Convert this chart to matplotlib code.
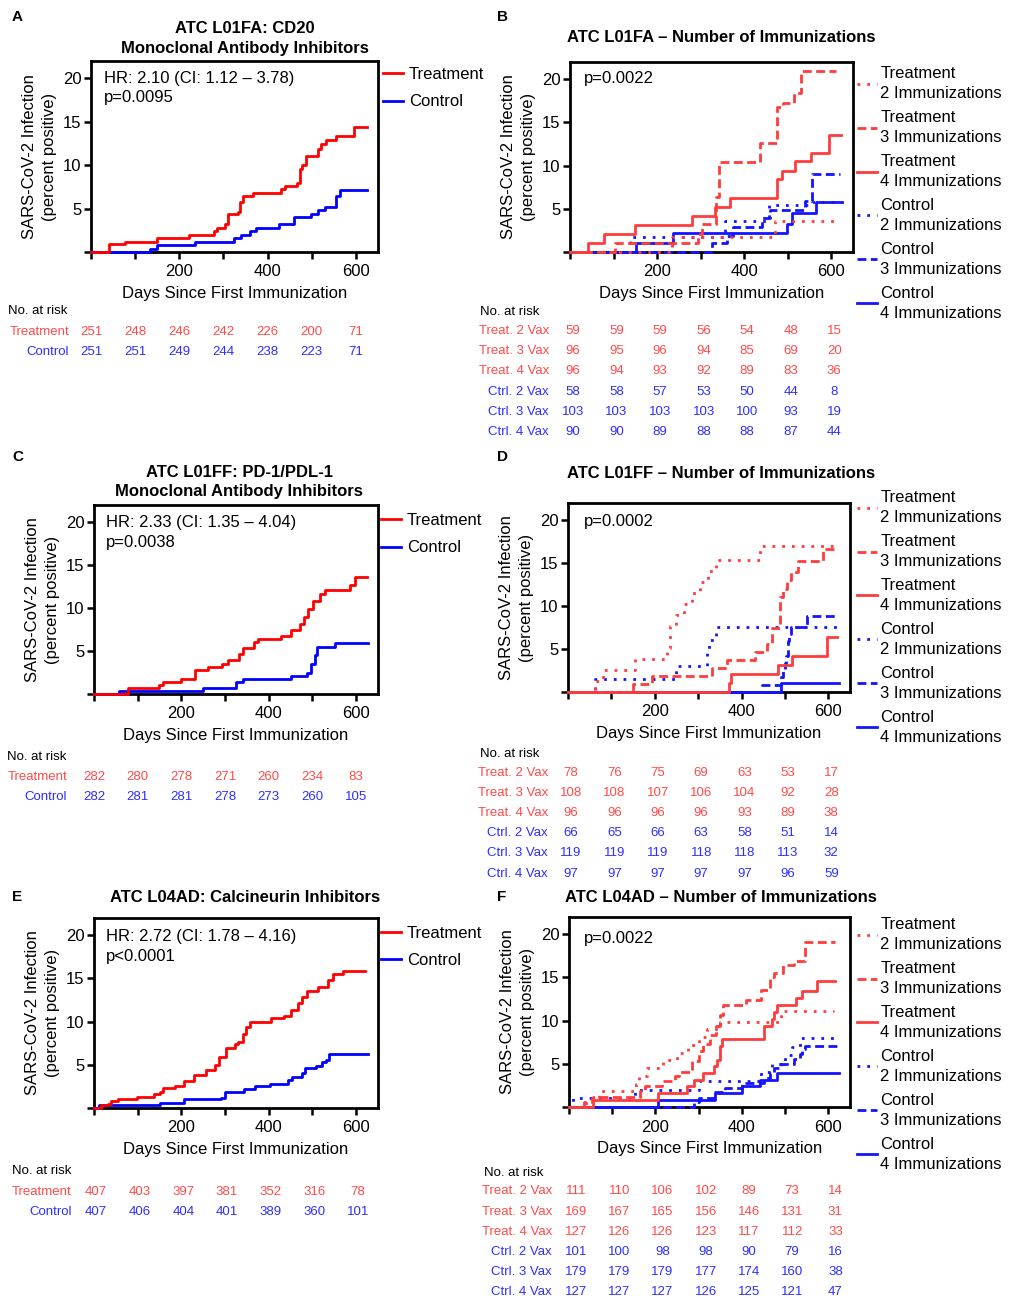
import matplotlib.pyplot as plt
from matplotlib import transforms

plt.rcParams['font.family'] = ['Liberation Sans', 'DejaVu Sans']
plt.rcParams['font.size'] = 12

W, H = 1010, 1298

RED, BLUE = '#ff0000', '#0000ff'          # single comparison panels
RED2, BLUE2 = '#ff3c3c', '#1414ff'        # immunization panels
TRED, TBLUE = '#ff4a4a', '#2e2eff'        # risk tables

risk_days = [0, 100, 200, 300, 400, 500, 600]

# ---------------- A: L01FA CD20 ----------------
a_trt_days = [0, 40, 78, 150, 221, 279, 285, 303, 310, 333, 338, 344, 368, 431, 440, 467, 473, 478, 488, 514, 521, 533, 556, 595]
a_trt_pct = [0, 0.9, 1.2, 1.6, 2.0, 2.4, 2.8, 3.2, 4.4, 4.6, 5.8, 6.4, 6.8, 7.2, 7.6, 8.0, 9.6, 10.0, 11.1, 11.9, 12.4, 12.9, 13.4, 14.4]
a_ctl_days = [0, 134, 150, 236, 323, 339, 361, 374, 425, 459, 498, 514, 531, 556, 565]
a_ctl_pct = [0, 0.4, 0.8, 1.2, 1.6, 2.0, 2.4, 2.8, 3.2, 4.0, 4.4, 4.8, 5.2, 6.4, 7.1]
a_risk_trt = [251, 248, 246, 242, 226, 200, 71]
a_risk_ctl = [251, 251, 249, 244, 238, 223, 71]

# ---------------- B: L01FA by immunizations ----------------
b_t2_days, b_t2_pct = [0, 235, 470], [0, 1.7, 3.6]
b_t3_days = [0, 103, 295, 304, 335, 342, 437, 475, 490, 515, 531]
b_t3_pct = [0, 1.0, 2.1, 3.3, 6.4, 10.4, 12.6, 16.8, 17.2, 18.4, 21.0]
b_t4_days = [0, 41, 79, 150, 281, 334, 367, 475, 488, 516, 554, 594]
b_t4_pct = [0, 1.0, 2.1, 3.1, 4.2, 5.2, 6.3, 8.4, 9.4, 10.5, 11.5, 13.5]
b_c2_days, b_c2_pct = [0, 137, 355, 458, 555], [0, 1.7, 3.6, 5.5, 5.8]
b_c3_days = [0, 325, 360, 375, 440, 460, 540, 555]
b_c3_pct = [0, 1.0, 1.9, 2.9, 3.9, 4.9, 5.9, 9.0]
b_c4_days, b_c4_pct = [0, 152, 236, 499, 511, 565], [0, 1.1, 2.2, 3.3, 4.5, 5.8]
b_risk = [
    [59, 59, 59, 56, 54, 48, 15],
    [96, 95, 96, 94, 85, 69, 20],
    [96, 94, 93, 92, 89, 83, 36],
    [58, 58, 57, 53, 50, 44, 8],
    [103, 103, 103, 103, 100, 93, 19],
    [90, 90, 89, 88, 88, 87, 44],
]

# ---------------- C: L01FF PD-1/PDL-1 ----------------
c_trt_days = [0, 77, 148, 157, 198, 232, 261, 293, 307, 333, 342, 367, 375, 429, 452, 472, 481, 490, 502, 517, 528, 585, 597]
c_trt_pct = [0, 0.7, 1.0, 1.4, 1.8, 2.8, 3.2, 3.5, 3.9, 4.6, 5.3, 6.0, 6.4, 6.7, 7.4, 8.2, 9.0, 9.9, 10.8, 11.6, 12.1, 12.7, 13.6]
c_ctl_days = [0, 58, 249, 326, 342, 450, 488, 497, 505, 511, 551]
c_ctl_pct = [0, 0.35, 0.7, 1.4, 1.8, 2.1, 2.5, 3.5, 4.5, 5.5, 5.9]
c_risk_trt = [282, 280, 278, 271, 260, 234, 83]
c_risk_ctl = [282, 281, 281, 278, 273, 260, 105]

# ---------------- D: L01FF by immunizations ----------------
d_t2_days = [0, 62, 80, 155, 228, 235, 250, 268, 285, 305, 322, 340, 443]
d_t2_pct = [0, 1.3, 2.6, 3.8, 5.1, 7.7, 9.0, 10.3, 11.5, 12.8, 14.1, 15.4, 17.0]
d_t3_days = [0, 150, 193, 331, 366, 432, 458, 470, 488, 496, 505, 515, 530, 588]
d_t3_pct = [0, 0.9, 1.9, 2.8, 3.7, 4.6, 5.6, 7.4, 11.1, 12.0, 13.0, 14.0, 15.2, 16.7]
d_t4_days, d_t4_pct = [0, 370, 376, 485, 517, 596], [0, 1.1, 2.1, 3.2, 4.2, 6.4]
d_c2_days, d_c2_pct = [0, 62, 250, 320, 325, 340], [0, 1.5, 3.0, 4.5, 6.1, 7.6]
d_c3_days = [0, 447, 492, 496, 500, 503, 506, 508, 510, 513, 550]
d_c3_pct = [0, 0.84, 1.7, 2.5, 3.4, 4.2, 5.0, 5.9, 6.7, 7.6, 8.8]
d_c4_days, d_c4_pct = [0, 492], [0, 1.1]
d_risk = [
    [78, 76, 75, 69, 63, 53, 17],
    [108, 108, 107, 106, 104, 92, 28],
    [96, 96, 96, 96, 93, 89, 38],
    [66, 65, 66, 63, 58, 51, 14],
    [119, 119, 119, 118, 118, 113, 32],
    [97, 97, 97, 97, 97, 96, 59],
]

# ---------------- E: L04AD calcineurin ----------------
e_trt_days = [0, 16, 31, 39, 54, 99, 138, 150, 157, 186, 207, 229, 257, 277, 287, 303, 322, 329, 341, 349, 356, 404, 436, 452, 466, 475, 488, 513, 536, 547, 570]
e_trt_pct = [0, 0.3, 0.5, 0.8, 1.1, 1.3, 1.6, 1.9, 2.3, 2.6, 3.1, 3.8, 4.4, 5.0, 5.9, 6.9, 7.4, 7.6, 8.6, 9.4, 10.0, 10.4, 10.7, 11.3, 12.2, 12.9, 13.5, 14.0, 14.8, 15.5, 15.9]
e_ctl_days = [0, 12, 150, 207, 291, 299, 343, 368, 402, 444, 453, 475, 482, 509, 521, 530, 537]
e_ctl_pct = [0, 0.3, 0.6, 1.0, 1.2, 1.8, 2.2, 2.5, 2.8, 3.2, 3.6, 4.1, 4.6, 4.9, 5.3, 5.6, 6.3]
e_risk_trt = [407, 403, 397, 381, 352, 316, 78]
e_risk_ctl = [407, 406, 404, 401, 389, 360, 101]

# ---------------- F: L04AD by immunizations ----------------
f_t2_days = [0, 40, 70, 155, 162, 180, 218, 250, 275, 300, 320, 350, 490]
f_t2_pct = [0, 0.9, 1.8, 2.7, 3.6, 4.5, 5.4, 6.3, 7.2, 8.1, 9.0, 9.9, 11.1]
f_t3_days = [0, 35, 55, 165, 175, 215, 245, 255, 285, 300, 310, 325, 340, 350, 357, 410, 445, 465, 475, 495, 520, 545]
f_t3_pct = [0, 0.6, 1.2, 1.8, 2.4, 3.0, 3.6, 4.1, 5.3, 6.5, 7.3, 8.3, 9.4, 10.6, 11.8, 12.4, 13.5, 15.0, 15.5, 16.4, 16.9, 19.1]
f_t4_days = [0, 55, 205, 272, 290, 310, 335, 342, 350, 355, 450, 470, 475, 480, 525, 540, 573]
f_t4_pct = [0, 0.8, 1.6, 2.4, 3.1, 3.9, 4.7, 5.5, 7.1, 7.9, 9.4, 10.2, 11.0, 11.8, 12.6, 13.4, 14.6]
f_c2_days = [0, 10, 152, 300, 445, 470, 500, 515, 535]
f_c2_pct = [0, 1.0, 2.0, 3.0, 4.0, 5.0, 6.0, 7.0, 8.0]
f_c3_days = [0, 290, 300, 335, 360, 400, 452, 465, 475, 490, 520, 535, 540, 545]
f_c3_pct = [0, 0.6, 1.1, 1.7, 2.2, 2.8, 3.4, 3.9, 4.5, 5.0, 5.6, 6.1, 6.7, 7.1]
f_c4_days, f_c4_pct = [0, 205, 338, 400, 442, 481], [0, 0.8, 1.6, 2.4, 3.1, 3.9]
f_risk = [
    [111, 110, 106, 102, 89, 73, 14],
    [169, 167, 165, 156, 146, 131, 31],
    [127, 126, 126, 123, 117, 112, 33],
    [101, 100, 98, 98, 90, 79, 16],
    [179, 179, 179, 177, 174, 160, 38],
    [127, 127, 127, 126, 125, 121, 47],
]

two_labels = ['Treatment', 'Control']
vax_labels = ['Treat. 2 Vax', 'Treat. 3 Vax', 'Treat. 4 Vax', 'Ctrl. 2 Vax', 'Ctrl. 3 Vax', 'Ctrl. 4 Vax']
vax_legend = ['Treatment\n2 Immunizations', 'Treatment\n3 Immunizations', 'Treatment\n4 Immunizations',
              'Control\n2 Immunizations', 'Control\n3 Immunizations', 'Control\n4 Immunizations']

DOT = (0, (1, 2.5))
DASH = (0, (3.2, 1.6))
LS = 1.4  # line spacing for two-line texts

fig = plt.figure(figsize=(W / 100, H / 100), dpi=100)


def fy(y):
    return 1 - y / H


def make_ax(l, r, t, b):
    ax = fig.add_axes([l / W, 1 - b / H, (r - l) / W, (b - t) / H])
    ax.set_xlim(0, 650)
    ax.set_ylim(0, 22)
    ax.set_xticks(range(0, 700, 100))
    ax.set_xticklabels(['', '', '200', '', '400', '', '600'])
    ax.set_yticks([0, 5, 10, 15, 20])
    ax.set_yticklabels(['', '5', '10', '15', '20'])
    for s in ax.spines.values():
        s.set_linewidth(2)
    ax.tick_params(direction='out', length=5, width=1.8, labelsize=12, pad=2)
    ax.tick_params(axis='x', pad=4)
    ax.set_xlabel('Days Since First Immunization', fontsize=12, labelpad=5)
    ax.set_ylabel('SARS-CoV-2 Infection\n(percent positive)', fontsize=12, labelpad=4, linespacing=LS)
    return ax


def km(ax, days, pct, end, color, ls='-', lw=2):
    x = list(days) + [end]
    y = list(pct) + [pct[-1]]
    line, = ax.step(x, y, where='post', color=color, ls=ls, lw=lw, clip_on=False, zorder=3)
    return line


def risk_table(ax, x_nr, y_nr, x_lab, labels, counts, colors, ys, dx=0):
    fig.text(x_nr / W, fy(y_nr), 'No. at risk', fontsize=9.5, ha='left', va='center')
    tr = transforms.blended_transform_factory(ax.transData, fig.transFigure)
    tr = transforms.offset_copy(tr, fig=fig, x=dx, y=0, units='dots')
    for lab, row, col, y in zip(labels, counts, colors, ys):
        fig.text(x_lab / W, fy(y), lab, color=col, fontsize=9.5, ha='right', va='center')
        for d, n in zip(risk_days, row):
            fig.text(d, fy(y), str(n), transform=tr, color=col, fontsize=9.5, ha='center', va='center')


def legend(ax, handles, labels, x, ytop, spacing, textpad):
    leg = ax.legend(handles, labels, loc='upper left', bbox_to_anchor=(x / W, fy(ytop)),
                    bbox_transform=fig.transFigure, frameon=False, borderpad=0, borderaxespad=0,
                    handlelength=1.2, handletextpad=textpad, labelspacing=spacing, fontsize=12)
    for t in leg.get_texts():
        t.set_linespacing(LS)


def two_group(l, r, t, b, trt, ctl, end_t, end_c, hr_text, hr_xy, title, title_xy, letter_xy, letter,
              leg_x, leg_top, leg_sp, risk, table):
    ax = make_ax(l, r, t, b)
    hc = km(ax, ctl[0], ctl[1], end_c, BLUE)
    ht = km(ax, trt[0], trt[1], end_t, RED)
    fig.text(hr_xy[0] / W, fy(hr_xy[1]), hr_text, fontsize=12, ha='left', va='center', linespacing=LS)
    fig.text(title_xy[0] / W, fy(title_xy[1]), title, fontsize=12, fontweight='bold', ha='center', va='center',
             linespacing=LS)
    fig.text(letter_xy[0] / W, fy(letter_xy[1]), letter, fontsize=11, fontweight='bold', ha='left', va='center')
    legend(ax, [ht, hc], two_labels, leg_x, leg_top, leg_sp, 0.35)
    x_nr, y_nr, x_lab, ys, dx = table
    risk_table(ax, x_nr, y_nr, x_lab, two_labels, risk, [TRED, TBLUE], ys, dx)
    return ax


def vax_group(l, r, t, b, series, p_text, p_xy, title, title_xy, letter_xy, letter, leg_x, leg_top, risk, table):
    ax = make_ax(l, r, t, b)
    styles = [(RED2, DOT), (RED2, DASH), (RED2, '-'), (BLUE2, DOT), (BLUE2, DASH), (BLUE2, '-')]
    handles = [None] * 6
    for i in [3, 4, 5, 0, 1, 2]:
        days, pct, end = series[i]
        col, ls = styles[i]
        handles[i] = km(ax, days, pct, end, col, ls)
    fig.text(p_xy[0] / W, fy(p_xy[1]), p_text, fontsize=12, ha='left', va='center')
    fig.text(title_xy[0] / W, fy(title_xy[1]), title, fontsize=12, fontweight='bold', ha='center', va='center')
    fig.text(letter_xy[0] / W, fy(letter_xy[1]), letter, fontsize=11, fontweight='bold', ha='left', va='center')
    legend(ax, handles, vax_legend, leg_x, leg_top, 0.55, 0.2)
    x_nr, y_nr, x_lab, ys, dx = table
    risk_table(ax, x_nr, y_nr, x_lab, vax_labels, risk, [TRED] * 3 + [TBLUE] * 3, ys, dx)
    return ax


# A
two_group(91, 378, 61, 252, (a_trt_days, a_trt_pct), (a_ctl_days, a_ctl_pct), 624, 624,
          'HR: 2.10 (CI: 1.12 \u2013 3.78)\np=0.0095', (104, 88),
          'ATC L01FA: CD20\nMonoclonal Antibody Inhibitors', (245, 38.5), (12, 17), 'A',
          383, 67, 0.75, [a_risk_trt, a_risk_ctl], (8, 311, 69, [332, 352], 0))
# C
two_group(94, 378, 505, 694, (c_trt_days, c_trt_pct), (c_ctl_days, c_ctl_pct), 624, 628,
          'HR: 2.33 (CI: 1.35 \u2013 4.04)\np=0.0038', (106, 532.5),
          'ATC L01FF: PD-1/PDL-1\nMonoclonal Antibody Inhibitors', (239, 482), (12, 457), 'C',
          381, 513, 0.75, [c_risk_trt, c_risk_ctl], (7, 757, 67, [777, 797], 0))
# E
two_group(94, 378, 918, 1108, (e_trt_days, e_trt_pct), (e_ctl_days, e_ctl_pct), 620, 626,
          'HR: 2.72 (CI: 1.78 \u2013 4.16)\np<0.0001', (106, 946.5),
          'ATC L04AD: Calcineurin Inhibitors', (245, 898), (12, 897), 'E',
          381, 926, 0.7, [e_risk_trt, e_risk_ctl], (12, 1171, 72, [1192, 1212], 2))

# B
vax_group(570, 853, 62, 252,
          [(b_t2_days, b_t2_pct, 620), (b_t3_days, b_t3_pct, 611), (b_t4_days, b_t4_pct, 622),
           (b_c2_days, b_c2_pct, 625), (b_c3_days, b_c3_pct, 620), (b_c4_days, b_c4_pct, 625)],
          'p=0.0022', (584, 78), 'ATC L01FA \u2013 Number of Immunizations', (721, 38), (497, 17), 'B',
          857, 66, b_risk, (480, 312, 549, [331, 351, 371, 392, 412, 432], 3))
# D
vax_group(568, 850, 503, 692,
          [(d_t2_days, d_t2_pct, 619), (d_t3_days, d_t3_pct, 622), (d_t4_days, d_t4_pct, 619),
           (d_c2_days, d_c2_pct, 625), (d_c3_days, d_c3_pct, 622), (d_c4_days, d_c4_pct, 625)],
          'p=0.0002', (584, 522), 'ATC L01FF \u2013 Number of Immunizations', (721, 474), (497, 457), 'D',
          857, 490, d_risk, (480, 754, 548, [773, 793, 813, 833, 853, 874], 3))
# F
vax_group(569, 850, 917, 1107,
          [(f_t2_days, f_t2_pct, 612), (f_t3_days, f_t3_pct, 615), (f_t4_days, f_t4_pct, 615),
           (f_c2_days, f_c2_pct, 625), (f_c3_days, f_c3_pct, 620), (f_c4_days, f_c4_pct, 625)],
          'p=0.0022', (584, 938), 'ATC L04AD \u2013 Number of Immunizations', (721, 898), (497, 897), 'F',
          857, 917, f_risk, (484, 1173, 552, [1191, 1212, 1232, 1252, 1272, 1292], 7))

fig.savefig('out.png', dpi=100)
